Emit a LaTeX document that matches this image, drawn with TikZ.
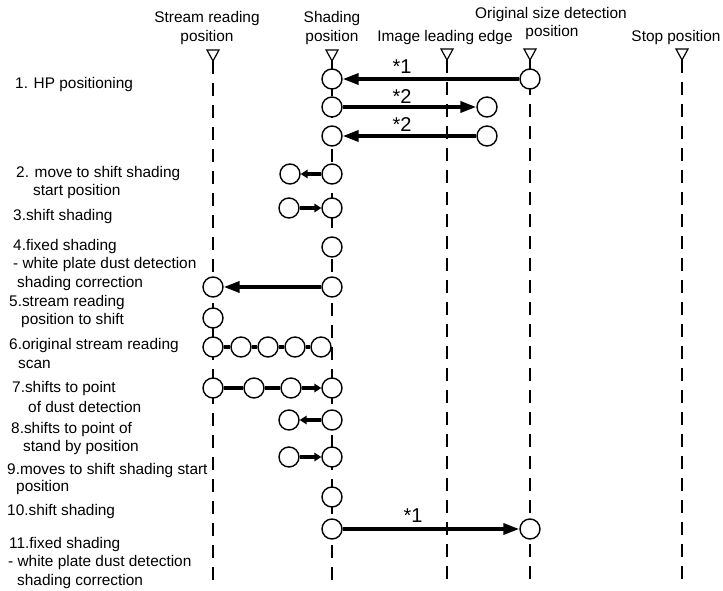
\documentclass[tikz,border=0pt]{standalone}
\usepackage{fontspec}
\setmainfont{Liberation Sans}
\usetikzlibrary{arrows.meta}
\tikzset{
  ball/.style={draw, circle, line width=1.4pt, fill=white, minimum size=20pt, inner sep=0pt},
  guide/.style={line width=1.6pt, dash pattern=on 13pt off 9pt},
  arr/.style={line width=3.5pt, -{Triangle[length=16pt,width=11pt]}},
  sarr/.style={line width=3.5pt, -{Triangle[length=7pt,width=8.5pt]}},
  link/.style={line width=3.5pt},
  posmark/.style={line width=1.2pt, fill=white},
  lbl/.style={anchor=west, inner sep=0pt, font=\fontsize{15.4}{18}\selectfont},
  hdr/.style={anchor=center, inner sep=0pt, font=\fontsize{15.4}{18}\selectfont},
  star/.style={anchor=center, inner sep=0pt, font=\fontsize{20}{22}\selectfont},
}
\begin{document}
\begin{tikzpicture}[x=1pt,y=-1pt]
\useasboundingbox (0,0) rectangle (723,591);
% headers
\node[hdr] (h1a) at (207,19) {Stream reading};
\node[hdr] (h1b) at (207,38) {position};
\node[hdr] (h2a) at (332,19) {Shading};
\node[hdr] (h2b) at (332,38) {position};
\node[hdr] (h3) at (445,38) {Image leading edge};
\node[hdr] (h4a) at (551,15) {Original size detection};
\node[hdr] (h4b) at (552,33) {position};
\node[hdr] (h5) at (676,38) {Stop position};
% marker tips
\coordinate (tA) at (213,61); \coordinate (bA) at (213,580);
\coordinate (tB) at (332,61); \coordinate (bB) at (332,580);
\coordinate (tC) at (447,60); \coordinate (bC) at (447,580);
\coordinate (tD) at (530,60); \coordinate (bD) at (530,580);
\coordinate (tE) at (682,60); \coordinate (bE) at (682,580);
\foreach \t/\b in {tA/bA,tB/bB,tC/bC,tD/bD,tE/bE}{
  \draw[guide] (\t) -- (\b);
  \draw[posmark] (\t) -- ++(-6,-11) -- ++(12,0) -- cycle;
}
% circles
\node[ball] (r1s) at (332,79) {}; \node[ball] (r1o) at (530,79) {};
\node[ball] (r2s) at (332,107) {}; \node[ball] (r2e) at (487,107) {};
\node[ball] (r3s) at (332,136) {}; \node[ball] (r3e) at (487,136) {};
\node[ball] (r4s) at (332,174) {}; \node[ball] (r4l) at (290,174) {};
\node[ball] (r5l) at (289,208) {}; \node[ball] (r5s) at (332,208) {};
\node[ball] (r6s) at (332,247) {};
\node[ball] (r7s) at (332,287) {}; \node[ball] (r7r) at (213,287) {};
\node[ball] (r8r) at (213,318) {};
\node[ball] (r9a) at (213,347) {}; \node[ball] (r9b) at (241,347) {};
\node[ball] (r9c) at (268,347) {}; \node[ball] (r9d) at (295,347) {};
\node[ball] (r9e) at (321,347) {};
\node[ball] (r10a) at (213,388) {}; \node[ball] (r10b) at (254,388) {};
\node[ball] (r10c) at (291,388) {}; \node[ball] (r10d) at (332,388) {};
\node[ball] (r11s) at (332,420) {}; \node[ball] (r11l) at (289,420) {};
\node[ball] (r12l) at (289,457) {}; \node[ball] (r12s) at (332,457) {};
\node[ball] (r13s) at (332,497) {};
\node[ball] (r14s) at (332,529) {}; \node[ball] (r14o) at (530,529) {};
% arrows
\draw[arr] (r1o) -- (r1s);
\draw[arr] (r2s) -- (r2e);
\draw[arr] (r3e) -- (r3s);
\draw[sarr] (r4s) -- (r4l);
\draw[sarr] (r5l) -- (r5s);
\draw[arr] (r7s) -- (r7r);
\draw[link] (r9a) -- (r9b);
\draw[link] (r9b) -- (r9c);
\draw[link] (r9c) -- (r9d);
\draw[link] (r9d) -- (r9e);
\draw[link] (r10a) -- (r10b);
\draw[link] (r10b) -- (r10c);
\draw[sarr] (r10c) -- (r10d);
\draw[sarr] (r11s) -- (r11l);
\draw[sarr] (r12l) -- (r12s);
\draw[arr] (r14s) -- (r14o);
% arrow labels
\node[star] (s1) at (402,67) {*1};
\node[star] (s2) at (402,97) {*2};
\node[star] (s3) at (402,125) {*2};
\node[star] (s4) at (413,516) {*1};
% left labels
\node[lbl] (l1) at (15,85) {1. HP positioning};
\node[lbl] (l2a) at (16,174) {2. move to shift shading};
\node[lbl] (l2b) at (33,192) {start position};
\node[lbl] (l3) at (13,217) {3.shift shading};
\node[lbl] (l4a) at (13,247) {4.fixed shading};
\node[lbl] (l4b) at (13,265) {- white plate dust detection};
\node[lbl] (l4c) at (17,284) {shading correction};
\node[lbl] (l5a) at (9,303) {5.stream reading};
\node[lbl] (l5b) at (21,321) {position to shift};
\node[lbl] (l6a) at (9,346) {6.original stream reading};
\node[lbl] (l6b) at (18,364) {scan};
\node[lbl] (l7a) at (12,389) {7.shifts to point};
\node[lbl] (l7b) at (28,407) {of dust detection};
\node[lbl] (l8a) at (11,430) {8.shifts to point of};
\node[lbl] (l8b) at (23,448) {stand by position};
\node[lbl] (l9a) at (7,471) {9.moves to shift shading start};
\node[lbl] (l9b) at (16,488) {position};
\node[lbl] (l10) at (7,512) {10.shift shading};
\node[lbl] (l11a) at (9,545) {11.fixed shading};
\node[lbl] (l11b) at (8,563) {- white plate dust detection};
\node[lbl] (l11c) at (17,582) {shading correction};
\end{tikzpicture}
\end{document}
